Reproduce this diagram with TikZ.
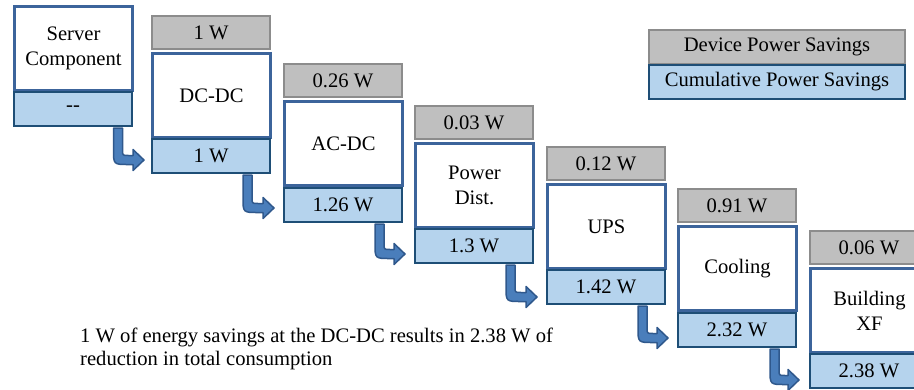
\documentclass[tikz,border=0pt]{standalone}
\usepackage{fontspec}
\setmainfont{Liberation Serif}
\usetikzlibrary{calc}
\definecolor{grayfill}{RGB}{191,191,191}
\definecolor{grayline}{RGB}{140,140,140}
\definecolor{whiteline}{RGB}{60,100,155}
\definecolor{bluefill}{RGB}{181,211,237}
\definecolor{blueline}{RGB}{30,78,118}
\definecolor{arrowfill}{RGB}{74,126,187}
\definecolor{arrowline}{RGB}{47,88,140}
\newcommand{\boxfont}{\fontsize{20.6pt}{25pt}\selectfont}
\newcommand{\notefont}{\fontsize{20.6pt}{22.5pt}\selectfont}
\newcommand{\myarrow}[2]{%
  \path[arr] let \p1=(#1), \p2=(#2) in
    ({\x1-4.5pt},\y1) -- ({\x1-4.5pt},{\y2-4.5pt+15pt})
    .. controls ({\x1-4.5pt},{\y2-4.5pt}) .. ({\x1-4.5pt+15pt},{\y2-4.5pt})
    -- ({\x2-11pt},{\y2-4.5pt}) -- ({\x2-11pt},{\y2-10.5pt}) -- (\x2,\y2)
    -- ({\x2-11pt},{\y2+10.5pt}) -- ({\x2-11pt},{\y2+4.5pt})
    -- ({\x1+4.5pt+6pt},{\y2+4.5pt})
    .. controls ({\x1+4.5pt},{\y2+4.5pt}) .. ({\x1+4.5pt},{\y2+4.5pt+6pt})
    -- ({\x1+4.5pt},\y1) -- cycle;}
\tikzset{
  cellbox/.style={draw, anchor=north west, minimum width=118pt, inner sep=2pt, align=center, font=\boxfont},
  graybox/.style={cellbox, fill=grayfill, draw=grayline, line width=2pt, minimum height=33pt},
  whitebox/.style={cellbox, fill=white, draw=whiteline, line width=3pt, minimum height=84pt},
  bluebox/.style={cellbox, fill=bluefill, draw=blueline, line width=2pt, minimum height=34pt},
  arr/.style={fill=arrowfill, draw=arrowline, line width=1.5pt, line join=round},
}
\begin{document}
\begin{tikzpicture}[x=1pt,y=-1pt]
\useasboundingbox (0,0) rectangle (914,389);
\clip (0,0) rectangle (914,389);
% column 1
\node[whitebox] (w1) at (13,5) {Server\\Component};
\node[bluebox]  (b1) at (13,91) {{-}{-}};
% column 2
\node[graybox]  (g2) at (151,15) {1 W};
\node[whitebox] (w2) at (151,52) {DC-DC};
\node[bluebox]  (b2) at (151,138) {1 W};
% column 3
\node[graybox]  (g3) at (283,63) {0.26 W};
\node[whitebox] (w3) at (283,100) {AC-DC};
\node[bluebox]  (b3) at (283,187) {1.26 W};
% column 4
\node[graybox]  (g4) at (414,105) {0.03 W};
\node[whitebox] (w4) at (414,142) {Power\\Dist.};
\node[bluebox]  (b4) at (414,228) {1.3 W};
% column 5
\node[graybox]  (g5) at (546,146) {0.12 W};
\node[whitebox] (w5) at (546,183) {UPS};
\node[bluebox]  (b5) at (546,269) {1.42 W};
% column 6
\node[graybox]  (g6) at (677,188) {0.91 W};
\node[whitebox] (w6) at (677,225) {Cooling};
\node[bluebox]  (b6) at (677,312) {2.32 W};
% column 7
\node[graybox]  (g7) at (809,230) {0.06 W};
\node[whitebox] (w7) at (809,267) {Building\\XF};
\node[bluebox]  (b7) at (809,353) {2.38 W};
% legend
\node[graybox, minimum width=256pt, minimum height=34pt] (lg) at (648,29) {Device Power Savings};
\node[bluebox, minimum width=256pt] (lb) at (648,64) {Cumulative Power Savings};
% note
\node[anchor=base west, align=left, inner sep=0pt, font=\notefont] (note) at (80,365)
  {1 W of energy savings at the DC-DC results in 2.38 W of\\reduction in total consumption};
% arrows
\coordinate (s1) at ($(b1.south east)+(-15,1)$);
\coordinate (t1) at ($(b2.west |- b1.south)+(-7,33)$);
\coordinate (s2) at ($(b2.south east)+(-23.5,1)$);
\coordinate (t2) at ($(b3.west |- b2.south)+(-9,34)$);
\coordinate (s3) at ($(b3.south east)+(-23.5,1)$);
\coordinate (t3) at ($(b4.west |- b3.south)+(-9,31)$);
\coordinate (s4) at ($(b4.south east)+(-23.5,1)$);
\coordinate (t4) at ($(b5.west |- b4.south)+(-9,33)$);
\coordinate (s5) at ($(b5.south east)+(-23.5,1)$);
\coordinate (t5) at ($(b6.west |- b5.south)+(-9,33)$);
\coordinate (s6) at ($(b6.south east)+(-22.5,1)$);
\coordinate (t6) at ($(b7.west |- b6.south)+(-10,32)$);
\myarrow{s1}{t1}
\myarrow{s2}{t2}
\myarrow{s3}{t3}
\myarrow{s4}{t4}
\myarrow{s5}{t5}
\myarrow{s6}{t6}
\end{tikzpicture}
\end{document}
